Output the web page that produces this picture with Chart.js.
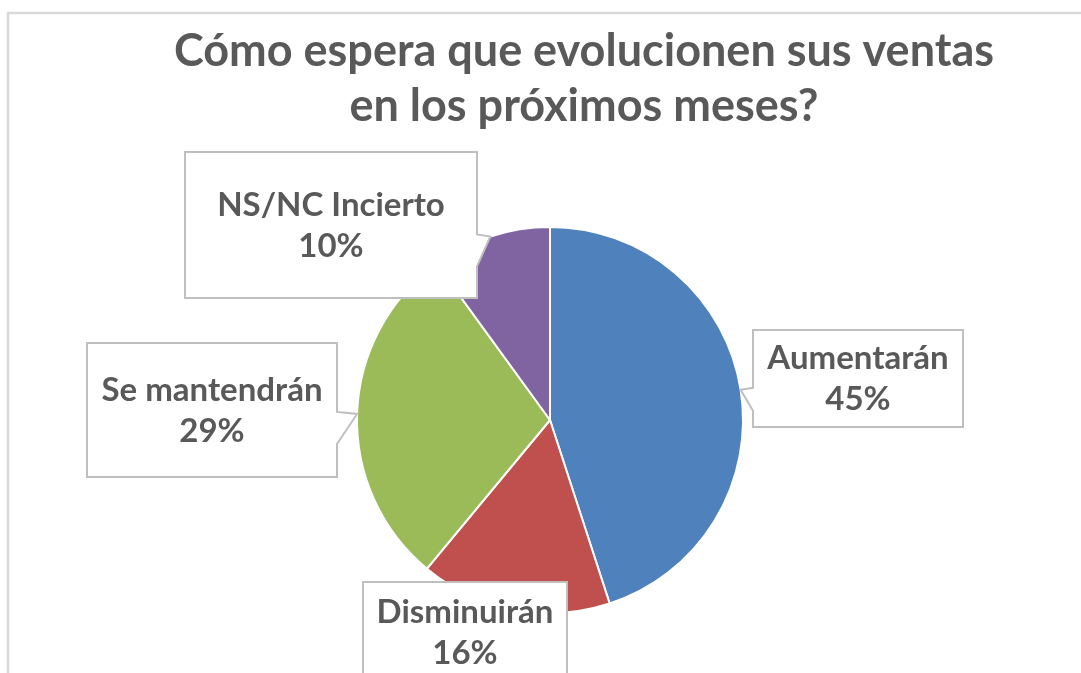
<!DOCTYPE html>
<html lang="es">
<head>
  <meta charset="UTF-8" />
  <title>Evolución de ventas</title>
  <script src="https://cdn.jsdelivr.net/npm/chart.js"></script>
  <style>
    body {
      margin: 0;
      background: #ffffff;
      overflow: hidden;
    }
    #wrap {
      position: relative;
      width: 1081px;
      height: 673px;
    }
  </style>
</head>
<body>
  <div id="wrap">
    <canvas id="chart" width="1081" height="673"></canvas>
  </div>

  <script>
    // data
    const categories = ['Aumentarán', 'Disminuirán', 'Se mantendrán', 'NS/NC Incierto'];
    const values = [45, 16, 29, 10];
    const pctLabels = ['45%', '16%', '29%', '10%'];
    const titleLines = ['Cómo espera que evolucionen sus ventas', 'en los próximos meses?'];

    const colors = ['#4f81bd', '#c0504d', '#9bbb59', '#8064a2'];
    const textGray = '#595959';

    // callout boxes (x, y, w, h) and which side the pointer leaves from
    const boxes = [
      { x: 753, y: 330, w: 210, h: 97, side: 'left' },
      { x: 363, y: 582, w: 204, h: 100, side: 'none' },
      { x: 87, y: 343, w: 250, h: 134, side: 'right' },
      { x: 185, y: 152, w: 292, h: 146, side: 'right' }
    ];

    const frameAndTitle = {
      id: 'frameAndTitle',
      beforeDraw(chart) {
        const c = chart.ctx;
        c.save();
        c.strokeStyle = '#d9d9d9';
        c.lineWidth = 2.5;
        c.strokeRect(8, 13, 1300, 1300);
        c.fillStyle = textGray;
        c.font = 'bold 45px Lato';
        c.textAlign = 'center';
        c.textBaseline = 'alphabetic';
        c.fillText(titleLines[0], 584, 66);
        c.fillText(titleLines[1], 584, 121);
        c.restore();
      }
    };

    const callouts = {
      id: 'callouts',
      afterDatasetsDraw(chart) {
        const c = chart.ctx;
        const arcs = chart.getDatasetMeta(0).data;
        c.save();
        arcs.forEach((arc, i) => {
          const b = boxes[i];
          const mid = (arc.startAngle + arc.endAngle) / 2;
          const tx = arc.x + Math.cos(mid) * arc.outerRadius;
          const ty = arc.y + Math.sin(mid) * arc.outerRadius;

          c.beginPath();
          c.moveTo(b.x, b.y);
          c.lineTo(b.x + b.w, b.y);
          if (b.side === 'right') {
            c.lineTo(b.x + b.w, ty - 2);
            c.lineTo(tx, ty);
            c.lineTo(b.x + b.w, ty + 30);
          }
          c.lineTo(b.x + b.w, b.y + b.h);
          c.lineTo(b.x, b.y + b.h);
          if (b.side === 'left') {
            c.lineTo(b.x, ty + 21);
            c.lineTo(tx, ty);
            c.lineTo(b.x, ty - 2);
          }
          c.closePath();
          c.fillStyle = '#ffffff';
          c.fill();
          c.strokeStyle = '#bfbfbf';
          c.lineWidth = 2;
          c.stroke();

          const cx = b.x + b.w / 2;
          const cy = b.y + b.h / 2;
          c.fillStyle = textGray;
          c.font = 'bold 33px Lato';
          c.textAlign = 'center';
          c.textBaseline = 'middle';
          c.fillText(categories[i], cx, cy - 20);
          c.fillText(pctLabels[i], cx, cy + 21);
        });
        c.restore();
      }
    };

    new Chart(document.getElementById('chart'), {
      type: 'pie',
      data: {
        labels: categories,
        datasets: [{
          data: values,
          backgroundColor: colors,
          borderColor: '#ffffff',
          borderWidth: 2
        }]
      },
      options: {
        responsive: false,
        animation: false,
        layout: {
          padding: { top: 226, bottom: 59, left: 250, right: 231 }
        },
        plugins: {
          legend: { display: false },
          tooltip: { enabled: false },
          title: { display: false }
        }
      },
      plugins: [frameAndTitle, callouts]
    });
  </script>
</body>
</html>
